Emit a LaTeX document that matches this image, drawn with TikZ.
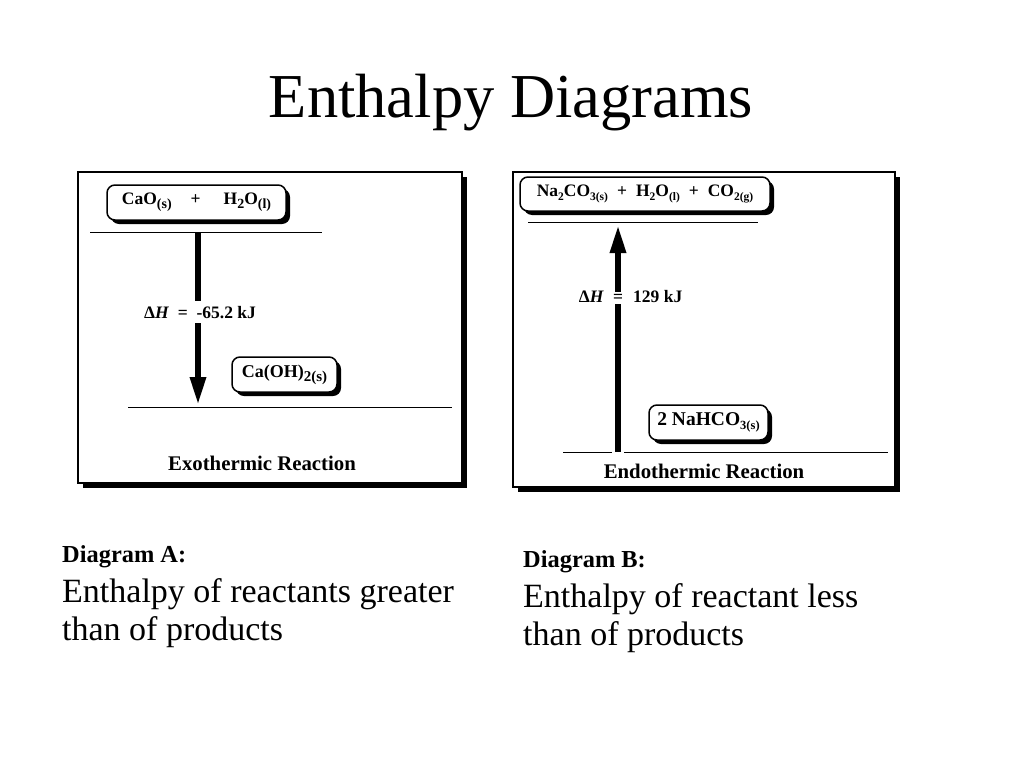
\documentclass[tikz,border=0pt]{standalone}
\usepackage{fontspec}
\setmainfont{Liberation Serif}
\usetikzlibrary{shadows,arrows.meta}
\newcommand{\ssub}[2][12]{\raisebox{-0.45ex}{\fontsize{#1}{#1}\selectfont #2}}
\begin{document}
\begin{tikzpicture}[x=1pt,y=-1pt,
  panel/.style={draw,line width=1.3pt,fill=white,inner sep=0pt,
    drop shadow={shadow xshift=5pt,shadow yshift=-5pt,opacity=1,fill=black}},
  species/.style={draw,rounded corners=8pt,line width=1.5pt,fill=white,inner sep=0pt,
    drop shadow={shadow xshift=4pt,shadow yshift=-4pt,opacity=1,fill=black},
    font=\bfseries\fontsize{17.5}{20}\selectfont},
  level/.style={line width=0.9pt},
  dH/.style={line width=6pt,-{Triangle[width=15pt,length=28pt]}},
  lbl/.style={font=\bfseries\fontsize{17.5}{20}\selectfont},
  caption/.style={font=\bfseries\fontsize{20.8}{24}\selectfont,inner sep=0pt,anchor=base}]

\useasboundingbox (0,0) rectangle (1024,768);

\node[anchor=base,inner sep=0pt,font=\fontsize{62.5}{70}\selectfont] (title) at (511,117) {Enthalpy Diagrams};

% panels
\node[panel,minimum width=384,minimum height=311] (panelA) at (270,327.5) {};
\node[panel,minimum width=382,minimum height=315] (panelB) at (704,329.5) {};

% exothermic
\coordinate (topA) at (198,232);
\coordinate (botA) at (198,405);
\draw[level] (90,232) -- (322,232);
\draw[level] (128,407) -- (452,407);
\draw[dH] (topA) -- (botA);
\node[species,minimum width=179,minimum height=35] (cao) at (196.5,202.5)
  {CaO\ssub[14]{(s)}\hspace{19pt}+\hspace{23pt}H\ssub[14]{2}O\ssub[14]{(l)}};
\node[species,font=\bfseries\fontsize{18}{20}\selectfont,minimum width=105,minimum height=35] (caoh) at (284.5,374.5)
  {Ca(OH)\ssub[15]{2(s)}};
\node[lbl,fill=white,inner sep=5pt,anchor=base] (dHA) at (200,318)
  {Δ\textit{H}~~=~~-65.2 kJ};
\node[caption] (exo) at (262,470) {Exothermic Reaction};

% endothermic
\coordinate (botB) at (618,452);
\coordinate (topB) at (618,225);
\draw[level] (528,222) -- (758,222);
\draw[level] (563,452) -- (612,452);
\draw[level] (624,452) -- (888,452);
\draw[dH] (botB) -- (topB);
\node[species,minimum width=250,minimum height=34] (naco) at (645,194)
  {Na\ssub[11.5]{2}CO\ssub[11.5]{3(s)}\hspace{9pt}+\hspace{9pt}H\ssub[11.5]{2}O\ssub[11.5]{(l)}\hspace{9pt}+\hspace{9pt}CO\ssub[11.5]{2(g)}};
\node[species,font=\bfseries\fontsize{19.5}{22}\selectfont,minimum width=119,minimum height=35] (nahco) at (708.5,422.5)
  {2 NaHCO\ssub[12.5]{3(s)}};
\node[lbl,inner sep=0pt,anchor=base east] (dHB) at (604,302) {Δ\textit{H}};
\node[lbl,fill=white,inner sep=1.5pt,anchor=base] (eqB) at (618,302) {=};
\node[lbl,inner sep=0pt,anchor=base west] (valB) at (633,302) {129 kJ};
\node[caption] (endo) at (704,478) {Endothermic Reaction};

% notes
\node[anchor=base west,inner sep=0pt,font=\bfseries\fontsize{24.4}{28}\selectfont] (headA) at (62,562) {Diagram A:};
\node[anchor=base west,inner sep=0pt,font=\fontsize{34}{40}\selectfont] (textA1) at (62,602) {Enthalpy of reactants greater};
\node[anchor=base west,inner sep=0pt,font=\fontsize{34}{40}\selectfont] (textA2) at (62,640) {than of products};
\node[anchor=base west,inner sep=0pt,font=\bfseries\fontsize{24.4}{28}\selectfont] (headB) at (523,567) {Diagram B:};
\node[anchor=base west,inner sep=0pt,font=\fontsize{34}{40}\selectfont] (textB1) at (523,607) {Enthalpy of reactant less};
\node[anchor=base west,inner sep=0pt,font=\fontsize{34}{40}\selectfont] (textB2) at (523,645) {than of products};

\end{tikzpicture}
\end{document}
